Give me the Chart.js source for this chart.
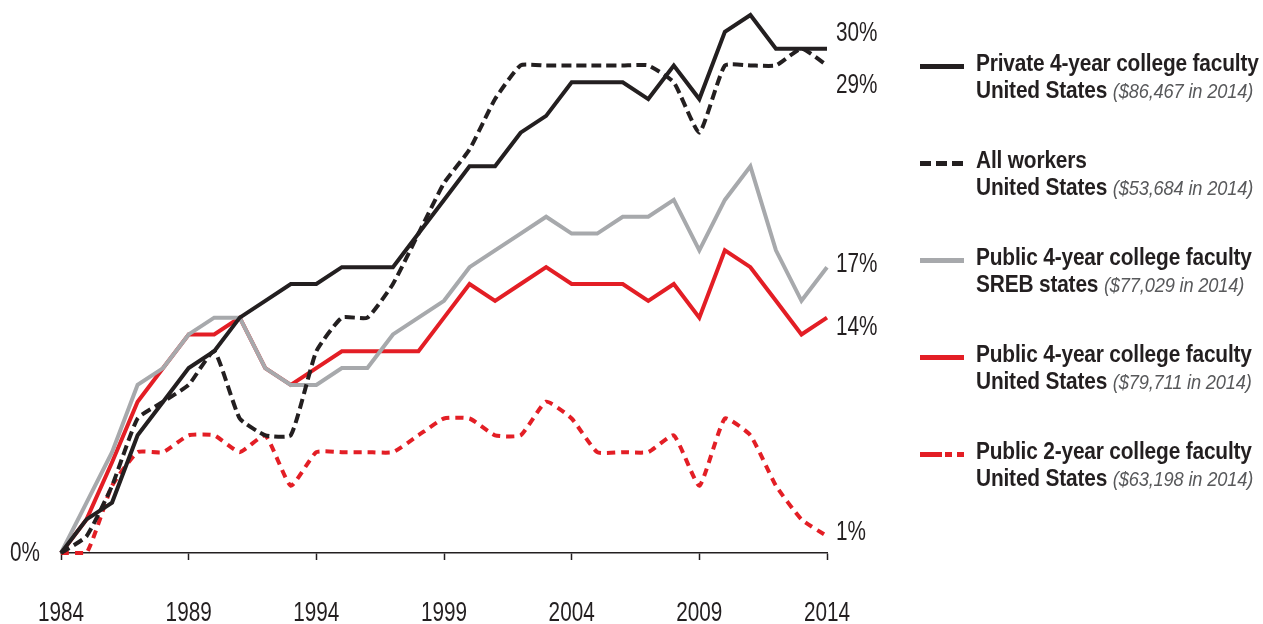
<!DOCTYPE html>
<html>
<head>
<meta charset="utf-8">
<title>Salary growth since 1984</title>
<script src="https://cdn.jsdelivr.net/npm/chart.js@4"></script>
<style>
    html, body {
        margin: 0;
        padding: 0;
        background: #ffffff;
    }
    #wrap {
        position: relative;
        width: 1263px;
        height: 624px;
        overflow: hidden;
    }
    #chart {
        position: absolute;
        left: 0;
        top: 0;
    }
    #legend {
        position: absolute;
        left: 920px;
        top: 49px;
        font-family: "Liberation Sans", Arial, sans-serif;
        color: #231f20;
    }
    .item {
        position: relative;
        height: 97px;
    }
    .swatch {
        position: absolute;
        left: 0;
        top: 15px;
        width: 44px;
        height: 5px;
    }
    .text {
        position: absolute;
        left: 56px;
        top: 0;
        white-space: nowrap;
        font-size: 24px;
        font-weight: bold;
        line-height: 27px;
        transform: scaleX(0.87);
        transform-origin: left top;
        letter-spacing: -0.2px;
    }
    .text i {
        font-weight: normal;
        font-size: 21px;
        color: #58595b;
    }
</style>
</head>
<body>
<div id="wrap">
    <canvas id="chart" width="1263" height="624"></canvas>
    <div id="legend"></div>
</div>
<script>
// Years on the x axis
const years = [1984, 1985, 1986, 1987, 1988, 1989, 1990, 1991, 1992, 1993,
    1994, 1995, 1996, 1997, 1998, 1999, 2000, 2001, 2002, 2003,
    2004, 2005, 2006, 2007, 2008, 2009, 2010, 2011, 2012, 2013, 2014];

// Cumulative real salary growth since 1984, percent
const privateFourYear = [0, 2, 3, 7, 9, 11, 12, 14, 15, 16,
    16, 17, 17, 17, 19, 21, 23, 23, 25, 26,
    28, 28, 28, 27, 29, 27, 31, 32, 30, 30, 30];
const allWorkers = [0, 1, 4, 8, 9, 10, 12, 8, 7, 7,
    12, 14, 14, 16, 19, 22, 24, 27, 29, 29,
    29, 29, 29, 29, 28, 25, 29, 29, 29, 30, 29];
const publicFourYearSreb = [0, 3, 6, 10, 11, 13, 14, 14, 11, 10,
    10, 11, 11, 13, 14, 15, 17, 18, 19, 20,
    19, 19, 20, 20, 21, 18, 21, 23, 18, 15, 17];
const publicFourYearUs = [0, 2, 5.4, 9, 11, 13, 13, 14, 11, 10,
    11, 12, 12, 12, 12, 14, 16, 15, 16, 17,
    16, 16, 16, 15, 16, 14, 18, 17, 15, 13, 14];
const publicTwoYearUs = [0, 0, 4, 6, 6, 7, 7, 6, 7, 4,
    6, 6, 6, 6, 7, 8, 8, 7, 7, 9,
    8, 6, 6, 6, 7, 4, 8, 7, 4, 2, 1];

// Labels shown at the right end of each line
const endLabels = ["30%", "29%", "17%", "14%", "1%"];

// Legend text
const legendNames = ["Private 4-year college faculty", "All workers",
    "Public 4-year college faculty", "Public 4-year college faculty",
    "Public 2-year college faculty"];
const legendRegions = ["United States", "United States", "SREB states",
    "United States", "United States"];
const salaries2014 = ["($86,467 in 2014)", "($53,684 in 2014)", "($77,029 in 2014)",
    "($79,711 in 2014)", "($63,198 in 2014)"];

const BLACK = "#231f20";
const GREY = "#a7a9ac";
const RED = "#e31e25";
const FONT = '"Liberation Sans", Arial, sans-serif';
const SQUEEZE = 0.74; // fake a condensed face

// pixel nudges so the end labels don't collide
const labelNudge = [-15, 20, -3, 10, -4];

const swatches = [
    BLACK,
    "repeating-linear-gradient(to right, " + BLACK + " 0 11px, transparent 11px 16px)",
    GREY,
    RED,
    "linear-gradient(to right, " + RED + " 0 22px, transparent 22px 25px, " + RED + " 25px 32px, transparent 32px 37px, " + RED + " 37px 44px)"
];

// Build the legend
const legend = document.getElementById("legend");
legendNames.forEach((name, i) => {
    const item = document.createElement("div");
    item.className = "item";
    const sw = document.createElement("div");
    sw.className = "swatch";
    sw.style.background = swatches[i];
    const txt = document.createElement("div");
    txt.className = "text";
    txt.innerHTML = name + "<br>" + legendRegions[i] + " <i>" + salaries2014[i] + "</i>";
    item.appendChild(sw);
    item.appendChild(txt);
    legend.appendChild(item);
});

function squeezedText(ctx, text, x, y, align) {
    ctx.save();
    ctx.translate(x, y);
    ctx.scale(SQUEEZE, 1);
    ctx.textAlign = align;
    ctx.fillText(text, 0, 0);
    ctx.restore();
}

// Draws the year labels, the 0% label and the end-of-line percentages
const sideLabels = {
    id: "sideLabels",
    afterDatasetsDraw(chart) {
        const ctx = chart.ctx;
        const area = chart.chartArea;
        const x = chart.scales.x;
        const y = chart.scales.y;
        ctx.save();
        ctx.font = "28px " + FONT;
        ctx.fillStyle = BLACK;
        ctx.textBaseline = "middle";
        years.forEach((yr, i) => {
            if (i % 5 === 0) squeezedText(ctx, String(yr), x.getPixelForTick(i), area.bottom + 60, "center");
        });
        squeezedText(ctx, "0%", area.left - 21, y.getPixelForValue(0), "right");
        chart.data.datasets.forEach((ds, i) => {
            const last = ds.data[ds.data.length - 1];
            squeezedText(ctx, endLabels[i], area.right + 9, y.getPixelForValue(last) + labelNudge[i], "left");
        });
        ctx.restore();
    }
};

const ctx = document.getElementById("chart").getContext("2d");
new Chart(ctx, {
    type: "line",
    data: {
        labels: years,
        datasets: [
            { data: privateFourYear, borderColor: BLACK, borderWidth: 4, tension: 0 },
            { data: allWorkers, borderColor: BLACK, borderWidth: 4, borderDash: [10, 5], tension: 0.15 },
            { data: publicFourYearSreb, borderColor: GREY, borderWidth: 4, tension: 0 },
            { data: publicFourYearUs, borderColor: RED, borderWidth: 4, tension: 0 },
            { data: publicTwoYearUs, borderColor: RED, borderWidth: 4, borderDash: [8, 6], tension: 0.15 }
        ]
    },
    options: {
        responsive: false,
        animation: false,
        events: [],
        layout: {
            padding: { left: 61, right: 436, top: 15, bottom: 0 }
        },
        elements: {
            point: { radius: 0 },
            line: { fill: false, borderJoinStyle: "miter" }
        },
        datasets: {
            line: { clip: false }
        },
        scales: {
            x: {
                type: "category",
                offset: false,
                afterFit: (scale) => { scale.height = 71; },
                border: { display: true, color: BLACK, width: 1.5 },
                grid: {
                    drawOnChartArea: false,
                    drawTicks: true,
                    tickLength: 7,
                    tickWidth: 1.5,
                    color: (c) => (c.index % 5 === 0 ? BLACK : "rgba(0,0,0,0)")
                },
                ticks: {
                    display: false,
                    autoSkip: false,
                    maxRotation: 0
                }
            },
            y: {
                display: false,
                min: 0,
                max: 32
            }
        },
        plugins: {
            legend: { display: false },
            tooltip: { enabled: false }
        }
    },
    plugins: [sideLabels]
});
</script>
</body>
</html>
